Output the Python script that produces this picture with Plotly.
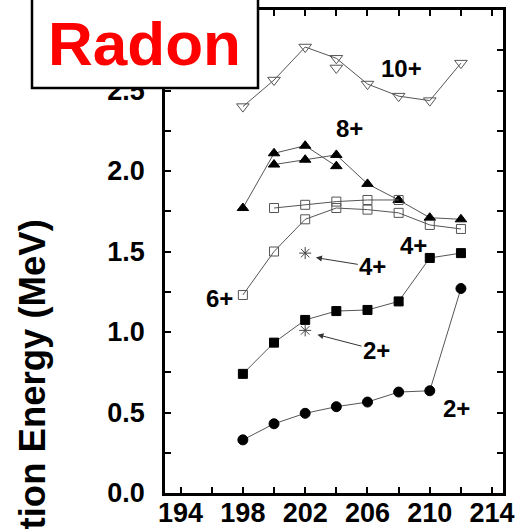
import plotly.graph_objects as go

# ---- data ----
ten_A = [198, 200, 202, 204, 206, 208, 210, 212]
ten_E = [2.40, 2.565, 2.77, 2.70, 2.54, 2.465, 2.437, 2.67]
ten_extra_A = [204]
ten_extra_E = [2.64]

eight_a_A = [198, 200, 202, 204]
eight_a_E = [1.77, 2.11, 2.157, 2.03]
eight_b_A = [200, 202, 204, 206, 208, 210, 212]
eight_b_E = [2.04, 2.07, 2.10, 1.92, 1.82, 1.71, 1.70]

six_a_A = [200, 202, 204, 206, 208]
six_a_E = [1.77, 1.79, 1.81, 1.82, 1.82]
six_b_A = [198, 200, 202, 204, 206, 208, 210, 212]
six_b_E = [1.23, 1.50, 1.70, 1.77, 1.76, 1.74, 1.665, 1.64]

four_A = [198, 200, 202, 204, 206, 208, 210, 212]
four_E = [0.74, 0.934, 1.075, 1.13, 1.137, 1.19, 1.46, 1.49]

two_A = [198, 200, 202, 204, 206, 208, 210, 212]
two_E = [0.33, 0.43, 0.495, 0.536, 0.565, 0.627, 0.635, 1.27]

star_A = [202, 202]
star_E = [1.49, 1.01]

x_ticks = [194, 198, 202, 206, 210, 214]
y_ticks = [0.0, 0.5, 1.0, 1.5, 2.0, 2.5, 3.0]
y_tick_text = ["0.0", "0.5", "1.0", "1.5", "2.0", "2.5", ""]  # 3.0 hidden under the box

LINE = dict(color="#555555", width=1)
FONT = "Liberation Sans, Arial, Helvetica, sans-serif"

fig = go.Figure()

def add(xs, ys, symbol, size, color, mode="lines+markers", lw=1):
    fig.add_trace(go.Scatter(
        x=xs, y=ys, mode=mode, line=LINE,
        marker=dict(symbol=symbol, size=size, color=color,
                    line=dict(color=color, width=lw)),
        showlegend=False, hoverinfo="skip"))

add(ten_A, ten_E, "triangle-down-open", 11, "#555555")
add(ten_extra_A, ten_extra_E, "triangle-down-open", 11, "#555555", mode="markers")
add(eight_a_A, eight_a_E, "triangle-up", 10, "black")
add(eight_b_A, eight_b_E, "triangle-up", 10, "black")
add(six_a_A, six_a_E, "square-open", 9, "#555555")
add(six_b_A, six_b_E, "square-open", 9, "#555555")
add(four_A, four_E, "square", 9, "black")
add(two_A, two_E, "circle", 10, "black")
add(star_A, star_E, "asterisk-open", 10, "#444444", mode="markers")

# ---- labels ----
lab_font = dict(family=FONT, size=24, color="black", weight="bold")
labels = [
    ("10+", 208.18, 2.638),
    ("8+", 204.87, 2.267),
    ("6+", 196.52, 1.211),
    ("4+", 208.93, 1.540),
    ("2+", 211.71, 0.526),
]
for t, xx, yy in labels:
    fig.add_annotation(x=xx, y=yy, text=t, showarrow=False, font=lab_font,
                       xanchor="center", yanchor="middle")

# arrow labels pointing at the asterisks
arrows = [
    ("4+", 206.34, 1.405, 202.5, 1.465),
    ("2+", 206.58, 0.888, 202.6, 0.988),
]
for t, tx, ty, hx, hy in arrows:
    fig.add_annotation(x=hx, y=hy, ax=tx, ay=ty, axref="x", ayref="y",
                       text=t, showarrow=True, arrowhead=2, arrowsize=1.2,
                       arrowwidth=1, arrowcolor="#333333", standoff=3,
                       font=lab_font)

# ---- Radon box ----
fig.add_shape(type="rect", xref="paper", yref="paper",
              x0=(32 - 165) / 338, x1=(258 - 165) / 338,
              y0=(493 - 88) / 483, y1=(493 + 5) / 483,
              fillcolor="white", line=dict(color="black", width=2.5),
              layer="above")
fig.add_annotation(xref="paper", yref="paper", x=(144 - 165) / 338,
                   y=(493 - 44) / 483, text="Radon", showarrow=False,
                   font=dict(family=FONT, size=62, color="#ff0000", weight="bold"),
                   xanchor="center", yanchor="middle")

# ---- y axis title ----
fig.add_annotation(xref="paper", yref="paper", x=(32 - 165) / 338,
                   y=(493 - 428) / 483, text="Excitation Energy (MeV)",
                   textangle=-90, showarrow=False,
                   font=dict(family=FONT, size=36.5, color="black", weight="bold"),
                   xanchor="center", yanchor="middle")

tick_font = dict(family=FONT, size=27, color="black", weight="bold")
fig.update_xaxes(range=[193.0, 214.7], tickmode="array", tickvals=x_ticks,
                 ticktext=[str(v) for v in x_ticks],
                 ticks="inside", ticklen=6, tickwidth=1.5, tickcolor="black",
                 minor=dict(dtick=2, tick0=194, ticks="inside", ticklen=6,
                            tickwidth=1.5, tickcolor="black"),
                 showline=True, linewidth=2.5, linecolor="black", mirror="ticks",
                 showgrid=False, zeroline=False, tickfont=tick_font,
                 ticklabelstandoff=-6, ticklabeloverflow="allow",
                 automargin=False)
fig.update_yaxes(range=[0, 3.0], tickmode="array", tickvals=y_ticks,
                 ticktext=y_tick_text,
                 ticks="inside", ticklen=6, tickwidth=1.5, tickcolor="black",
                 minor=dict(dtick=0.25, tick0=0, ticks="inside", ticklen=6,
                            tickwidth=1.5, tickcolor="black"),
                 showline=True, linewidth=2.5, linecolor="black", mirror="ticks",
                 showgrid=False, zeroline=False, tickfont=tick_font,
                 ticklabelstandoff=12, ticklabeloverflow="allow",
                 automargin=False)

fig.update_layout(width=515, height=529,
                  margin=dict(l=165, r=12, t=10, b=36),
                  paper_bgcolor="white", plot_bgcolor="white")

fig.write_html("out.html")
